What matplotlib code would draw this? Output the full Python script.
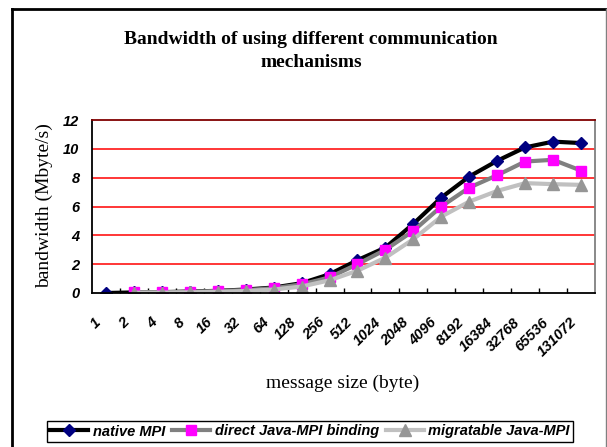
import numpy as np
import matplotlib
matplotlib.use("Agg")
import matplotlib.pyplot as plt
from matplotlib.lines import Line2D
from matplotlib.ticker import FixedLocator, NullFormatter
import matplotlib.transforms as mtransforms

# message sizes (bytes) used as categories
sizes = ['1', '2', '4', '8', '16', '32', '64', '128', '256', '512', '1024',
         '2048', '4096', '8192', '16384', '32768', '65536', '131072']

# bandwidth in Mbyte/s
native_mpi = [0.0, 0.04, 0.06, 0.10, 0.15, 0.24, 0.38, 0.68, 1.30, 2.28, 3.15,
              4.80, 6.62, 8.08, 9.17, 10.10, 10.50, 10.40]
direct_java = [np.nan, 0.04, 0.05, 0.09, 0.14, 0.20, 0.33, 0.60, 1.08, 2.00, 3.00,
               4.31, 6.00, 7.31, 8.17, 9.12, 9.24, 8.49]
migratable_java = [np.nan, 0.02, 0.03, 0.05, 0.08, 0.14, 0.24, 0.45, 0.88, 1.55, 2.45,
                   3.73, 5.30, 6.34, 7.08, 7.62, 7.55, 7.50]

W, H = 607, 447
fig = plt.figure(figsize=(W / 100, H / 100), dpi=100)

def fx(px):
    return px / W

def fy(py):
    return 1 - py / H

# plot area (pixel box 92..595 x 120..293)
ax = fig.add_axes([fx(92), fy(293), fx(595) - fx(92), fy(120) - fy(293)])

x = np.arange(len(sizes))
ax.plot(x, native_mpi, color='black', lw=3, marker='D', ms=6.5,
        mfc='#000080', mec='#000080', label='native MPI')
ax.plot(x, direct_java, color='#808080', lw=3, marker='s', ms=7.5,
        mfc='#FF00FF', mec='#FF00FF', label='direct Java-MPI binding')
ax.plot(x, migratable_java, color='#C0C0C0', lw=3, marker='^', ms=8.5,
        mfc='#969696', mec='#969696', label='migratable Java-MPI')

ax.set_xlim(-0.5, len(sizes) - 0.5)
ax.set_ylim(0, 12)

# red horizontal gridlines
for v in [2, 4, 6, 8, 10]:
    ax.axhline(v, color='#FF0000', lw=1.1, zorder=0)

ax.spines['left'].set_color('black')
ax.spines['bottom'].set_color('black')
ax.spines['top'].set_color('#800000')
ax.spines['right'].set_color('#808080')
for s in ax.spines.values():
    s.set_linewidth(1.3)

tick_font = dict(family='Liberation Sans', weight='bold', style='italic', size=10.5)

ax.set_yticks([0, 2, 4, 6, 8, 10, 12])
ax.set_yticklabels(['0', '2', '4', '6', '8', '10', '12'], **tick_font)
ax.tick_params(axis='y', length=0, pad=9)

ax.set_xticks(x)
ax.set_xticklabels(sizes, rotation=45, ha='right', **tick_font)
ax.tick_params(axis='x', which='major', length=0, pad=16)
ax.xaxis.set_minor_locator(FixedLocator(np.arange(0.5, len(sizes) - 1, 1.0)))
ax.xaxis.set_minor_formatter(NullFormatter())
ax.tick_params(axis='x', which='minor', direction='in', length=3.5, width=1, color='black')
shift = mtransforms.ScaledTranslation(-2 / 100, 0, fig.dpi_scale_trans)
for lab in ax.get_xticklabels():
    lab.set_transform(lab.get_transform() + shift)

# titles and axis labels
fig.text(fx(311), fy(51), 'Bandwidth of using different communication\nmechanisms',
         ha='center', va='center', family='Liberation Serif', weight='bold',
         size=14, linespacing=1.4)
fig.text(fx(343), fy(383), 'message size (byte)', ha='center', va='center',
         family='Liberation Serif', size=14)
fig.text(fx(44), fy(206), 'bandwidth (Mbyte/s)', ha='center', va='center',
         rotation=90, family='Liberation Serif', size=14)

leg = fig.legend(loc='center', bbox_to_anchor=(fx(310), fy(431.5)), ncol=3,
                 prop=dict(family='Liberation Sans', weight='bold', style='italic', size=10.5),
                 handlelength=2.6, handletextpad=0.3, columnspacing=0.5,
                 borderpad=0.25, fancybox=False, edgecolor='black', framealpha=1)
leg.get_frame().set_linewidth(1.0)

# outer chart frame
fig.add_artist(Line2D([fx(12), fx(12)], [fy(9), fy(460)], color='black', lw=2,
                      transform=fig.transFigure))
fig.add_artist(Line2D([fx(12), fx(606)], [fy(9), fy(9)], color='black', lw=2,
                      transform=fig.transFigure))
fig.add_artist(Line2D([fx(605.5), fx(605.5)], [fy(9), fy(460)], color='#808080', lw=1,
                      transform=fig.transFigure))

fig.savefig('out.png', dpi=100)
